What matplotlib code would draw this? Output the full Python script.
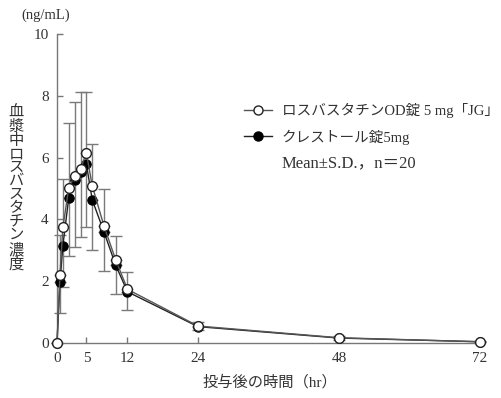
import numpy as np
import matplotlib.pyplot as plt
from matplotlib.lines import Line2D

plt.rcParams['font.family'] = ['Liberation Serif', 'Noto Sans CJK JP', 'DejaVu Sans']

time_hr = [0, 0.5, 1, 2, 3, 4, 5, 6, 8, 10, 12, 24, 48, 72]

# ロスバスタチンOD錠5mg「JG」 (open circles, upper S.D.)
jg_mean = [0, 2.20, 3.74, 5.01, 5.41, 5.63, 6.15, 5.08, 3.78, 2.68, 1.73, 0.54, 0.16, 0.03]
jg_sd = [0, 1.29, 1.56, 2.10, 2.40, 2.51, 1.99, 1.36, 1.20, 0.79, 0.57, 0.12, 0.06, 0.02]

# クレストール錠5mg (filled circles, lower S.D.)
cr_mean = [0, 1.96, 3.15, 4.70, 5.28, 5.52, 5.79, 4.63, 3.59, 2.51, 1.65, 0.52, 0.15, 0.03]
cr_sd = [0, 1.00, 1.33, 1.89, 2.17, 2.08, 2.03, 1.62, 1.26, 0.94, 0.59, 0.12, 0.06, 0.02]

xticks = [0, 5, 12, 24, 48, 72]
yticks = [0, 2, 4, 6, 8, 10]

fig = plt.figure(figsize=(5.01, 3.98), dpi=100)
ax = fig.add_axes([0.1138, 0.139, 0.850, 0.775])

axis_col = '#777777'
bar_col = '#7a7a7a'
zeros = np.zeros(len(time_hr))

# error bars: JG upward, Crestor downward
ax.errorbar(time_hr, jg_mean, yerr=[zeros, jg_sd], fmt='none', ecolor=bar_col,
            elinewidth=1, capsize=4, capthick=1, zorder=2, clip_on=False)
ax.errorbar(time_hr, cr_mean, yerr=[cr_sd, zeros], fmt='none', ecolor=bar_col,
            elinewidth=1, capsize=4, capthick=1, zorder=2, clip_on=False)

ax.plot(time_hr, cr_mean, '-o', color='#222222', lw=1, ms=6.5,
        mfc='black', mec='black', zorder=3, clip_on=False)
ax.plot(time_hr, jg_mean, '-o', color='#555555', lw=1, ms=7,
        mfc='white', mec='#222222', mew=1, zorder=4, clip_on=False)

ax.set_xlim(0, 72.5)
ax.set_ylim(0, 10)
ax.set_xticks(xticks)
ax.set_yticks(yticks)
for s in ['top', 'right']:
    ax.spines[s].set_visible(False)
for s in ['left', 'bottom']:
    ax.spines[s].set_color(axis_col)
    ax.spines[s].set_linewidth(1)
ax.tick_params(direction='in', length=4, width=1, color=axis_col,
               labelsize=11, labelcolor='#333333')
ax.tick_params(axis='x', pad=7)
ax.tick_params(axis='y', pad=6)

ax.set_xlabel('投与後の時間（hr）', fontsize=11, color='#333333', labelpad=7)
fig.text(0.032, 0.525, '\n'.join('血漿中ロスバスタチン濃度'), fontsize=11,
         color='#333333', ha='center', va='center', linespacing=1.04)
fig.text(0.092, 0.962, '(ng/mL)', fontsize=10.5, color='#333333', ha='center', va='center')

handles = [
    Line2D([], [], color='#555555', lw=1, marker='o', ms=6.5, mfc='white', mec='#222222'),
    Line2D([], [], color='#222222', lw=1, marker='o', ms=6.5, mfc='black', mec='black'),
    Line2D([], [], color='none'),
]
labels = ['ロスバスタチンOD錠 5 mg「JG」', 'クレストール錠5mg', 'Mean±S.D.，n＝20']
leg = fig.legend(handles, labels, loc='upper left', bbox_to_anchor=(0.475, 0.755),
                 frameon=False, fontsize=10.5, handlelength=1.9, handletextpad=0.7,
                 labelspacing=0.75, borderaxespad=0)
for t in leg.get_texts():
    t.set_color('#333333')
leg.get_texts()[2].set_fontsize(12)

fig.savefig('out.png', dpi=100, facecolor='white')
